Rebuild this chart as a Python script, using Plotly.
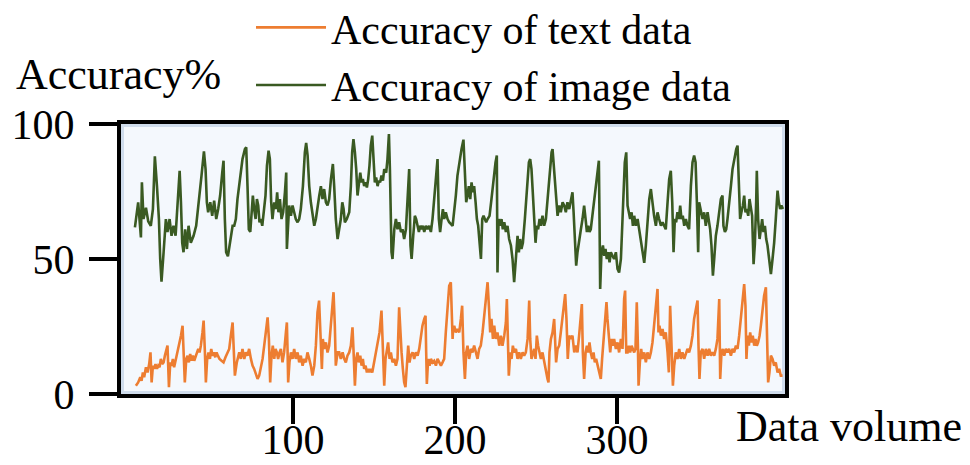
import plotly.graph_objects as go

# ---- data: Accuracy of text data (orange) ----
x_text = [
    3.0, 4.4, 5.7, 6.5, 7.3, 8.1, 9.2, 10.2, 11.2, 12.0,
    12.7, 13.5, 14.3, 15.1, 16.0, 16.8, 17.6, 18.4, 19.2, 20.1,
    20.9, 21.9, 22.5, 23.4, 24.2, 25.0, 25.8, 26.6, 27.7, 28.7,
    29.7, 30.8, 31.8, 32.6, 33.2, 34.1, 34.9, 35.7, 36.5, 37.4,
    38.2, 39.0, 39.8, 40.6, 41.5, 42.3, 43.1, 44.1, 44.8, 45.6,
    46.2, 47.0, 47.8, 48.7, 49.5, 50.3, 51.1, 52.0, 52.8, 53.6,
    54.6, 55.9, 57.1, 58.3, 59.6,
    60.6, 61.6, 62.7, 63.3, 64.1, 65.3, 66.8, 67.8, 68.8, 69.9,
    70.9, 71.9, 72.9, 74.0, 75.0, 76.0, 77.1, 78.1, 79.1, 80.1,
    81.2, 82.2, 83.2, 84.3, 85.1, 85.9, 86.7, 87.5, 88.4, 89.2,
    90.0, 90.8, 91.7, 92.5, 93.5, 94.5, 95.6, 96.2, 96.6, 97.0,
    97.8, 98.7, 99.7, 100.7, 101.7, 102.8, 103.8, 104.8, 105.9, 106.9,
    107.9, 108.9, 110.0, 111.0, 112.0, 113.1, 114.1, 115.1, 116.1, 117.2,
    117.8, 118.4, 119.2, 120.3, 121.3, 122.3, 123.4, 124.2, 125.0, 125.8,
    126.4, 127.5,
    128.5, 129.5, 130.6, 131.6, 132.6, 133.6, 134.7, 135.7, 136.7, 137.3,
    138.2, 139.0, 139.8, 140.6, 141.5, 142.3, 143.1, 143.9, 144.8, 145.6,
    146.4, 147.2, 148.0, 148.9, 149.7, 150.5, 151.3, 152.2, 153.4, 154.6,
    155.5, 156.3, 157.1, 157.9, 158.7, 159.6, 160.4, 161.4, 162.5, 163.5,
    164.5, 165.5, 166.2, 167.0, 167.8, 168.6, 169.4, 170.3, 171.1, 171.9,
    172.7, 173.8, 174.8, 175.8, 176.9, 177.9, 178.9, 179.9, 181.0, 181.8,
    182.2, 182.6, 183.4, 184.3, 185.1, 186.1, 187.1, 188.2, 189.2, 190.2,
    191.3, 192.3, 193.3, 194.3, 195.4, 196.4, 197.4, 198.0, 198.5,
    198.7, 199.5, 200.5, 201.5, 202.6, 203.6, 204.4, 205.2, 206.1, 206.9,
    207.7, 208.7, 209.8, 210.8, 211.8, 212.9, 213.9, 214.9, 215.9, 217.0,
    218.0, 219.0, 220.1, 220.9, 221.7, 222.5, 223.4, 224.2, 225.2, 226.2,
    227.3, 228.3, 229.3, 230.4, 231.4, 232.0, 232.6, 233.2, 234.1, 234.9,
    235.7, 236.5, 237.6, 238.6, 239.6, 240.6, 241.7, 242.7, 243.7, 244.8,
    245.8, 246.4, 247.2, 248.0, 248.9, 249.7, 250.5, 251.3, 252.2, 253.0,
    254.0, 255.0, 256.1, 257.1, 257.7, 258.3, 259.2, 260.2, 261.2, 261.8,
    262.4, 263.3,
    264.3, 265.3, 266.4, 267.4, 268.0, 268.8, 269.6, 270.5, 271.5, 272.5,
    273.6, 274.6, 275.6, 276.6, 277.7, 278.3, 278.9, 279.7, 280.6, 281.4,
    282.2, 283.0, 283.8, 284.7, 285.5, 286.3, 287.1, 288.0, 289.0, 290.0,
    290.8, 291.7, 292.5, 293.5, 294.1, 294.9, 295.8, 296.6, 297.4, 298.2,
    299.3, 300.3, 301.3, 302.4, 303.4, 304.4, 305.0, 305.7, 306.5, 307.3,
    308.1, 309.0, 309.8, 310.6, 311.4, 312.2, 312.9, 313.3, 314.1, 314.9,
    315.7, 316.8, 317.8, 318.8, 319.9, 320.9, 321.9, 322.9, 324.0, 325.0,
    325.6, 326.2, 327.1, 328.1, 329.1, 330.1, 331.2, 332.0, 332.8,
    333.6, 334.5, 335.3, 336.3, 337.3, 338.4, 339.4, 340.4, 341.5, 342.5,
    343.5, 344.5, 345.6, 346.6, 347.6, 348.7, 349.7, 350.3, 350.9, 351.7,
    352.8, 353.8, 354.8, 355.9, 356.9, 357.9, 358.9, 360.0, 361.0, 362.0,
    363.1, 363.7, 364.5, 365.3, 366.2, 367.2, 368.2, 369.2, 370.3, 371.3,
    372.3, 373.4, 374.4, 375.4, 376.4, 377.5, 378.5, 379.3, 379.9, 380.6,
    381.4, 382.2, 383.0, 383.8, 384.7, 385.5, 386.3, 387.1, 388.0, 388.8,
    389.8, 390.8, 391.9, 392.5, 393.3, 394.1, 395.0, 396.0, 397.0, 398.0,
    399.1, 400.1, 401.1, 402.2,
]
acc_text = [
    3.1, 4.3, 6.2, 4.9, 8.0, 6.2, 9.9, 8.0, 11.1, 15.4,
    4.3, 10.5, 9.3, 11.1, 9.3, 10.5, 9.9, 13, 11.1, 11.7,
    14.2, 16.7, 17.9, 2.5, 11.7, 10.5, 13, 9.9, 13, 15.4,
    17.9, 21.6, 25.3, 13, 4.3, 13, 14.2, 11.7, 14.8, 12.3,
    14.2, 12.3, 13.6, 15.4, 16.7, 15.4, 17.9, 22.8, 27.2, 15.4,
    4.3, 13, 15.4, 13, 16.7, 14.2, 15.4, 13.6, 15.4, 14.2,
    13, 12.3, 11.7, 13.6, 15.4,
    16.7, 21.6, 26.5, 17.9, 6.8, 11.7, 15.4, 13, 16.7, 13,
    15.4, 14.2, 16.7, 13, 10.5, 9.3, 6.8, 5.6, 6.8, 9.3,
    13, 17.9, 22.8, 28.4, 20.4, 4.3, 14.2, 17.9, 13, 16.7,
    15.4, 13, 15.4, 16.7, 11.7, 15.4, 22.8, 26.5, 16.7, 4.3,
    11.7, 15.4, 13, 16.7, 13, 15.4, 11.7, 14.2, 10.5, 13,
    11.7, 15.4, 13, 10.5, 6.8, 10.5, 17.9, 30.2, 34.6, 20.4,
    9.3, 20.4, 16.7, 19.1, 15.4, 17.9, 25.3, 32.7, 37.7, 25.3,
    10.5, 15.4,
    15.4, 13, 15.4, 13, 11.7, 14.2, 15.4, 17.9, 24.7, 16.7,
    3.1, 13, 15.4, 11.7, 14.2, 10.5, 13, 9.3, 10.5, 8,
    9.3, 8, 9.3, 8, 10.5, 13, 15.4, 17.9, 22.8, 30.9,
    16.7, 3.1, 13, 15.4, 19.1, 13, 15.4, 11.7, 13, 10.5,
    13, 32.1, 21.6, 15.4, 9.3, 4.3, 2.5, 13, 17.9, 11.7,
    14.2, 15.4, 13, 15.4, 14.2, 16.7, 21.6, 25.3, 27.8, 29,
    15.4, 3.7, 13, 10.5, 13, 11.7, 12.3, 10.5, 13, 11.7,
    10.5, 11.7, 13, 22.8, 32.7, 40.1, 41.4, 30.2, 20.4,
    22.8, 25.3, 22.8, 24.1, 22.8, 27.8, 32.7, 15.4, 5.6, 15.4,
    17.9, 13, 16.7, 15.4, 17.9, 15.4, 13, 16.7, 17.9, 22.8,
    29, 32.7, 41.4, 32.7, 22.8, 27.8, 20.4, 25.3, 20.4, 22.8,
    17.9, 21.6, 17.9, 21.6, 26.5, 35.2, 17.9, 6.8, 15.4, 13,
    17.9, 15.4, 16.7, 13, 15.4, 13, 15.4, 14.2, 15.4, 20.4,
    34.6, 20.4, 13, 15.4, 16.7, 13, 21.6, 17.9, 15.4, 13,
    15.4, 11.7, 9.3, 5.6, 4.3, 15.4, 20.4, 22.8, 27.8, 21.6,
    11.7, 16.7,
    17.9, 22.8, 27.8, 32.7, 37, 27.8, 13, 21.6, 20.4, 21.6,
    15.4, 17.9, 15.4, 21.6, 27.8, 33.3, 15.4, 5.6, 15.4, 17.9,
    15.4, 19.1, 15.4, 13, 15.4, 11.7, 13, 10.5, 8, 5.6,
    13, 20.4, 27.8, 34, 27.8, 20.4, 15.4, 20.4, 17.9, 20.4,
    16.7, 19.1, 15.4, 20.4, 16.7, 35.2, 38.3, 15.4, 15.4, 17.9,
    15.4, 17.9, 16.7, 15.4, 16.7, 34, 17.9, 3.1, 11.7, 16.7,
    13, 15.4, 11.7, 15.4, 13, 15.4, 19.1, 25.3, 32.7, 38.9,
    22.8, 25.3, 21.6, 24.1, 20.4, 22.8, 15.4, 8, 32.7,
    15.4, 3.1, 10.5, 15.4, 13, 16.7, 13, 15.4, 13, 15.4,
    16.7, 15.4, 17.9, 21.6, 27.8, 31.5, 34.6, 17.9, 5.6, 15.4,
    16.7, 13, 16.7, 14.2, 16.7, 14.2, 15.4, 14.2, 16.7, 20.4,
    35.2, 5.6, 15.4, 16.7, 14.2, 16.7, 15.4, 16.7, 14.2, 16.7,
    15.4, 17.9, 16.7, 21.6, 27.8, 35.2, 40.7, 32.7, 13, 21.6,
    17.9, 22.8, 19.1, 21.6, 17.9, 20.4, 17.9, 19.1, 21.6, 25.3,
    31.5, 36.4, 39.5, 21.6, 4.3, 8, 14.2, 13, 10.5, 11.7,
    8, 9.3, 6.8, 6.8,
]

# ---- data: Accuracy of image data (green) ----
x_image = [
    2.4, 4.4, 6.1, 6.7, 7.7, 9.2, 10.6, 12.2, 13.5, 14.7,
    16.0, 17.2, 18.0, 18.8, 20.1, 21.5, 22.5, 23.8, 25.0, 26.2,
    27.5, 28.7, 30.0, 30.8, 31.6, 32.4, 33.4, 34.5, 35.5, 36.9,
    38.6, 40.2, 41.9, 43.5, 45.0, 46.0, 46.8, 47.6, 48.9, 50.1,
    51.3, 52.6, 53.8, 55.0, 56.3, 57.1, 57.9, 58.7, 59.8, 61.2,
    62.7,
    63.7, 64.7, 65.7, 67.4, 68.8, 70.3, 71.1, 71.9, 72.7, 73.6,
    74.4, 75.2, 76.0, 76.9, 77.7, 78.5, 79.3, 80.1, 81.0, 81.8,
    83.0, 83.9, 84.9, 85.7, 86.5, 87.3, 88.4, 89.4, 90.2, 91.0,
    91.9, 92.9, 93.9, 95.0, 95.8, 96.2, 97.6, 98.7, 99.7, 100.7,
    101.7, 102.8, 103.8, 104.8, 106.1, 107.3, 108.1, 109.0, 110.0, 111.0,
    112.0, 113.1, 114.1, 115.1, 116.2, 117.2, 118.2, 119.2, 120.3, 121.3,
    122.3, 123.4, 124.6, 125.4, 126.4, 127.5,
    128.5, 129.5, 130.4, 131.2, 132.0, 133.2, 134.7, 135.7, 136.5, 137.3,
    138.2, 139.0, 139.8, 140.6, 141.5, 142.3, 143.1, 143.9, 144.8, 145.6,
    146.4, 147.2, 148.0, 148.9, 149.7, 150.5, 151.3, 152.2, 153.0, 153.8,
    154.6, 155.5, 156.3, 157.5, 158.3, 159.2, 159.8, 160.2, 160.8, 161.4,
    162.5, 163.5, 164.5, 165.5, 166.6, 167.6, 168.6, 169.7, 170.7, 171.7,
    172.5, 173.2, 174.2, 175.2, 176.0, 176.9, 177.7, 178.5, 179.3, 180.1,
    181.0, 182.0, 183.0, 184.0, 185.1, 186.1, 187.1, 188.2, 189.2, 190.0,
    190.8, 191.7, 192.5, 193.3, 194.3, 195.4, 196.4, 198.5,
    199.5, 200.5, 201.5, 202.8, 204.0, 205.2, 206.1, 206.9, 207.7, 208.5,
    209.4, 210.2, 211.0, 211.8, 212.7, 213.5, 214.3, 215.1, 216.0, 216.8,
    217.6, 218.4, 219.2, 220.1, 221.3, 222.5, 223.8, 225.0, 225.8, 226.2,
    226.9, 227.9, 228.7, 229.5, 230.4, 231.4, 232.4, 233.4, 234.5, 235.5,
    236.5, 237.6, 238.6, 239.4, 240.2, 241.0, 241.9, 243.1, 244.3, 245.6,
    246.4, 247.2, 248.0, 248.9, 249.7, 250.5, 251.3, 252.2, 253.0, 254.0,
    255.0, 256.1, 257.1, 258.3, 259.6, 260.2, 260.8, 261.6, 262.4, 263.3,
    264.3, 265.3, 266.4,
    267.4, 268.4, 269.4, 270.5, 271.5, 272.5, 273.2, 274.0, 274.8, 275.6,
    276.6, 277.7, 278.7, 279.7, 280.6, 281.4, 282.2, 283.0, 283.8, 284.7,
    285.5, 286.3, 287.5, 288.8, 289.2, 289.6, 290.4, 291.3, 292.1, 292.9,
    293.7, 294.5, 295.4, 296.2, 297.2, 298.2, 299.3, 300.3, 301.3, 302.4,
    303.4, 304.0, 304.8, 305.7, 306.1, 306.5, 307.3, 308.1, 309.0, 309.8,
    310.6, 311.6, 312.7, 313.7, 314.7, 315.7, 316.8, 317.8, 318.8, 319.9,
    320.9, 321.9, 322.9, 324.0, 325.0, 326.0, 327.1, 328.1, 329.1, 330.1,
    331.2, 332.2, 333.2,
    334.1, 334.9, 335.7, 336.5, 337.3, 338.2, 339.0, 339.8, 340.6, 341.5,
    342.5, 343.5, 344.5, 345.6, 346.6, 347.6, 348.5, 349.3, 350.1, 350.7,
    351.7, 352.8, 353.8, 354.8, 355.9, 356.7, 357.5, 358.3, 359.2, 360.0,
    361.0, 362.0, 363.1, 364.1, 365.1, 365.7, 366.6, 367.4, 368.2, 369.2,
    370.3, 371.3, 372.3, 373.6, 374.4, 375.2, 376.0, 376.8, 377.7, 378.5,
    379.3, 380.1, 381.0, 381.8, 382.6, 383.4, 384.3, 385.1, 385.9, 386.3,
    387.1, 388.0, 388.8, 389.6, 390.4, 391.3, 392.1, 392.9, 393.9, 395.0,
    396.0, 397.0, 398.0, 399.1, 399.9, 400.7, 401.5, 402.4,
]
acc_image = [
    61.7, 71, 58, 78.4, 64.8, 69, 64, 62.3, 68.5, 88,
    77, 64.8, 50, 41.6, 52.5, 64.8, 60, 64.8, 58.6, 62.3,
    58.6, 70, 82.7, 71, 56, 52.5, 61, 53.7, 62.3, 56,
    58.6, 62.3, 71, 80.9, 89.9, 83.3, 71, 67.3, 71, 66,
    71.6, 64.8, 68.5, 73.5, 82, 86.4, 64.8, 52.5, 51, 57.4,
    62.3,
    62.3, 64.8, 72.2, 80.9, 87, 90.7, 91.4, 77, 61, 60,
    67.3, 73.5, 68.5, 64.8, 72.2, 69.8, 63.6, 64.8, 62.3, 67.3,
    73.5, 84.6, 90.1, 87, 71, 64.8, 71, 68.5, 74.7, 67.3,
    72.2, 64.8, 67.3, 74.7, 82, 53.7, 69.8, 66, 69.8, 67.3,
    64.8, 63.6, 64.8, 68.5, 77, 89.5, 93, 88.3, 77, 71,
    66, 62.3, 64.8, 69.8, 73.5, 77, 72.2, 75.9, 71, 69.8,
    72.2, 79.6, 85.2, 77, 64.8, 57.4,
    61, 64.8, 71, 68.5, 63.6, 64.8, 67.3, 77, 89.5, 94.4,
    89.5, 83.3, 73.5, 77, 82, 78.4, 79.6, 77, 78.4, 76.5,
    79.6, 84.6, 92, 95.7, 85.8, 78.4, 80.2, 77, 79, 78.4,
    80.9, 79, 83.3, 82, 87, 96.3, 83.3, 62.3, 52.5, 50,
    61, 64.8, 61, 63.6, 60, 61, 57.4, 61, 71, 83.3,
    55, 50, 58.6, 66, 64.8, 62.3, 60, 62.3, 61, 62.3,
    60, 62.3, 61, 62.3, 60, 64.8, 72.2, 79.6, 87, 64.8,
    60, 64.8, 68.5, 64.8, 67.3, 64.8, 63.6, 62.3,
    67.3, 73.5, 80.9, 87, 90.7, 94.2, 83.3, 71, 73.5, 77,
    72.2, 78.4, 74.7, 77, 71, 64.8, 62.3, 55, 50, 64.8,
    66, 64.8, 63.6, 64.8, 66, 72.2, 79.6, 85.8, 88.3, 45,
    64.8, 62.3, 64.8, 61, 63.6, 60, 62.3, 57.4, 55, 50,
    41.4, 52.5, 58.6, 52.5, 57.4, 53.7, 56, 64.8, 77, 85.8,
    87, 83.3, 74.7, 64.8, 56, 62.3, 61, 64.8, 62.3, 66,
    62.3, 64.8, 72.2, 82, 89.5, 90.7, 85.8, 77, 69.8, 66,
    69.8, 67.3, 71,
    69.8, 67.3, 71, 68.5, 72.2, 74.7, 67.3, 55, 47.5, 52.5,
    57.4, 61, 64.8, 69.8, 64.8, 60, 62.3, 60, 61, 66,
    69.8, 73.5, 79.6, 86.4, 64.8, 38.9, 52.5, 55, 51.2, 53.7,
    50, 52.5, 48.8, 52.5, 51.2, 50, 52.5, 46.3, 45, 50,
    64.8, 77, 85.8, 89.5, 77, 69.8, 67.3, 64.8, 67.3, 62.3,
    66, 62.3, 64.8, 61, 56, 52.5, 48.6, 55, 64.8, 72.2,
    75.9, 69.8, 66, 62.3, 67.3, 64.8, 62.3, 63.6, 62.3, 61,
    71, 79.6, 82.7,
    71, 52.5, 64.8, 63.6, 67.3, 64.8, 69.8, 64.8, 66, 62.3,
    64.8, 62.3, 61, 77, 85.8, 88.3, 85.8, 71, 52.5, 71,
    68.5, 64.8, 67.3, 62.3, 67.3, 64.8, 61, 55, 43.8, 50,
    58.6, 62.3, 67.3, 72.2, 73.5, 62.3, 60, 61, 64.8, 69.8,
    77, 83.3, 87, 90.7, 92, 79.6, 64.8, 67.3, 69.8, 73.5,
    67.3, 68.5, 66, 72.2, 69.8, 66, 48.1, 55.6, 71, 82.7,
    64.8, 57.4, 61, 64.8, 60, 62.3, 57.4, 55, 50, 44.4,
    50, 56, 64.8, 75.3, 71, 68.5, 69.8, 68.5,
]

assert len(x_text) == len(acc_text), (len(x_text), len(acc_text))
assert len(x_image) == len(acc_image), (len(x_image), len(acc_image))

x_tick_vals = [100, 200, 300]
y_tick_vals = [0, 50, 100]

FONT = "Liberation Serif"

fig = go.Figure()
fig.add_trace(go.Scatter(x=x_text, y=acc_text, mode="lines",
                         name="Accuracy of text data",
                         line=dict(color="#ED7D31", width=2.6)))
fig.add_trace(go.Scatter(x=x_image, y=acc_image, mode="lines",
                         name="Accuracy of image data",
                         line=dict(color="#3A5A22", width=2.6)))

axis_common = dict(
    showline=True, linewidth=4, linecolor="black", mirror=True,
    showgrid=False, zeroline=False, ticks="outside", tickcolor="black",
    tickfont=dict(family=FONT, size=42, color="black"),
)
fig.update_xaxes(range=[-6.2, 403.7], tickvals=x_tick_vals, ticklen=26,
                 tickwidth=4, ticklabelstandoff=-20, **axis_common)
fig.update_yaxes(range=[0, 100], tickvals=y_tick_vals, ticklen=28,
                 tickwidth=4, ticklabelstandoff=6, **axis_common)

# The page body adds an 8px offset, so the figure is 8px smaller and the
# margins are shifted by 8px to land the plot area on the reference pixels.
fig.update_layout(
    width=962, height=457,
    margin=dict(l=113, r=185, t=116, b=71, pad=0, autoexpand=False),
    paper_bgcolor="white", plot_bgcolor="#f4f8fd",
    font=dict(family=FONT, size=44, color="black"),
    legend=dict(x=0.1958, y=1.483, xanchor="left", yanchor="top",
                bgcolor="rgba(0,0,0,0)", borderwidth=0,
                font=dict(family=FONT, size=42, color="black"),
                tracegroupgap=0, itemwidth=70),
    showlegend=True,
    shapes=[
        dict(type="rect", xref="paper", yref="paper", x0=0, x1=1, y0=0, y1=1,
             line=dict(color="#cfdcec", width=6), layer="below"),
    ],
    annotations=[
        dict(text="Accuracy%", xref="paper", yref="paper",
             x=-0.161, y=1.185, xanchor="left", yanchor="middle",
             showarrow=False, font=dict(family=FONT, size=44, color="black")),
        dict(text="Data volume", xref="paper", yref="paper",
             x=0.923, y=-0.12, xanchor="left", yanchor="middle",
             showarrow=False, font=dict(family=FONT, size=44, color="black")),
    ],
)

fig.write_html("out.html")
